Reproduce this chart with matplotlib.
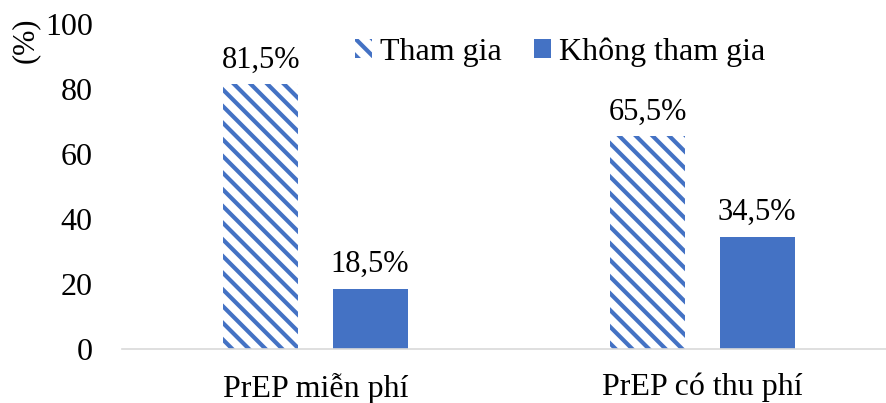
import matplotlib.pyplot as plt
import matplotlib.patches as mpatches
import numpy as np

categories = ["PrEP miễn phí", "PrEP có thu phí"]
series_names = ["Tham gia", "Không tham gia"]
tham_gia = [81.5, 65.5]
khong_tham_gia = [18.5, 34.5]
yticks = [0, 20, 40, 60, 80, 100]

blue = "#4472C4"
plt.rcParams['font.family'] = ['Liberation Serif', 'DejaVu Serif']
plt.rcParams['hatch.linewidth'] = 3.0

fig = plt.figure(figsize=(8.86, 4.03), dpi=100)
ax = fig.add_axes([122 / 886, 54 / 403, 774 / 886, 325 / 403])

x = np.arange(len(categories))
w = 0.194
off = 0.141
b1 = ax.bar(x - off, tham_gia, w, facecolor="white", edgecolor=blue, hatch="\\\\", linewidth=0)
b2 = ax.bar(x + off, khong_tham_gia, w, color=blue, linewidth=0)

for bars, vals in ((b1, tham_gia), (b2, khong_tham_gia)):
    for r, v in zip(bars, vals):
        ax.annotate(("%.1f%%" % v).replace(".", ","), (r.get_x() + r.get_width() / 2, v),
                    xytext=(0, 7), textcoords="offset points", ha="center", va="bottom", fontsize=22)

ax.set_xlim(-0.5, 1.5)
ax.set_ylim(0, 100)
ax.set_yticks(yticks)
ax.set_xticks(x)
ax.set_xticklabels(categories)
ax.tick_params(axis="both", length=0, labelsize=23)
ax.tick_params(axis="y", pad=21)
ax.tick_params(axis="x", pad=17)
for s in ("top", "right", "left"):
    ax.spines[s].set_visible(False)
ax.spines["bottom"].set_color("#d9d9d9")
ax.spines["bottom"].set_linewidth(1.2)

fig.text(25 / 886, 1 - 40 / 403, "(%)", rotation=90, ha="center", va="center", fontsize=22)

h1 = mpatches.Patch(facecolor="white", edgecolor=blue, hatch="\\\\", linewidth=0)
h2 = mpatches.Patch(facecolor=blue, linewidth=0)
fig.legend([h1, h2], series_names, loc="center", bbox_to_anchor=(560 / 886, 1 - 52 / 403),
           ncol=2, frameon=False, fontsize=23, handlelength=0.53, handleheight=0.53,
           handletextpad=0.25, columnspacing=1.0)

fig.savefig("out.png", dpi=100)
